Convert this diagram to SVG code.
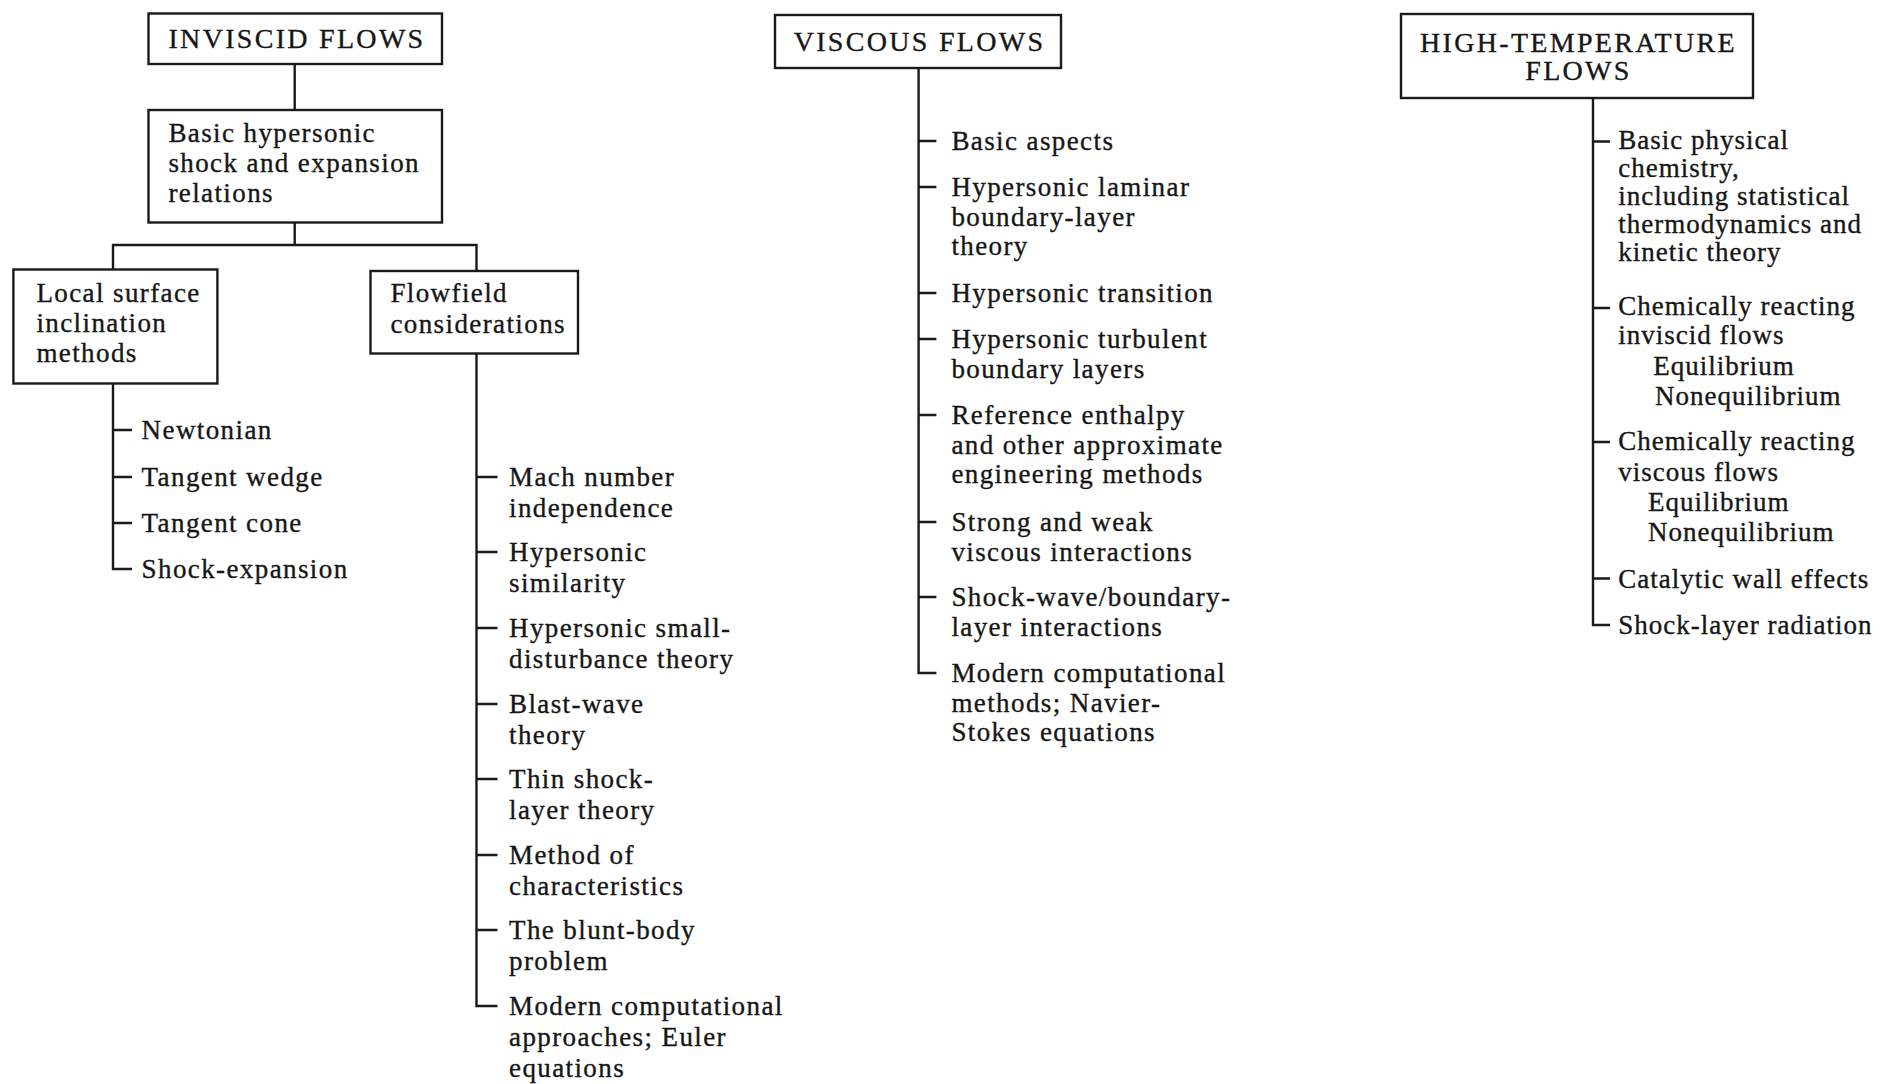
<svg xmlns="http://www.w3.org/2000/svg" width="1883" height="1084" viewBox="0 0 1883 1084">
<style>
.t{font-family:"Liberation Serif","Times New Roman",serif;font-size:27px;letter-spacing:1.4px;fill:#161616;stroke:#161616;stroke-width:0.35}
.tn{letter-spacing:1px}
.h{font-family:"Liberation Serif","Times New Roman",serif;font-size:28px;letter-spacing:2.3px;fill:#161616;stroke:#161616;stroke-width:0.35;text-anchor:middle}
.box{fill:none;stroke:#1a1a1a;stroke-width:2.4}
.ln{fill:none;stroke:#1a1a1a;stroke-width:2.4}
</style>
<rect width="1883" height="1084" fill="#fff"/>
<g id="connectors" class="ln">
<path d="M294.7 64V110"/>
<path d="M294.7 222.5V245M113 269.5V245H476.5V271"/>
<path d="M113 383.5V569H132M113 430H132M113 477H132M113 523H132"/>
<path d="M476.5 353.5V1006H497.5M476.5 477H497.5M476.5 552H497.5M476.5 628H497.5M476.5 704H497.5M476.5 779H497.5M476.5 855H497.5M476.5 930H497.5"/>
<path d="M918.6 68V673H936.4M918.6 141H936.4M918.6 187H936.4M918.6 293H936.4M918.6 339H936.4M918.6 415H936.4M918.6 522H936.4M918.6 597H936.4"/>
<path d="M1593 98V625H1610M1593 141.5H1610M1593 308H1610M1593 442H1610M1593 578.5H1610"/>
</g>
<g id="inviscid">
<rect class="box" x="148.5" y="13.5" width="293.5" height="50.5"/>
<text class="h" x="297" y="48">INVISCID FLOWS</text>
</g>
<g id="basic-relations">
<rect class="box" x="148.5" y="110" width="293.5" height="112.5"/>
<text class="t" x="168.4" y="141.7"><tspan x="168.4">Basic hypersonic</tspan><tspan x="168.4" dy="30">shock and expansion</tspan><tspan x="168.4" dy="30">relations</tspan></text>
</g>
<g id="local-surface">
<rect class="box" x="13.4" y="269.5" width="204" height="114"/>
<text class="t" x="36.4" y="301.7"><tspan x="36.4">Local surface</tspan><tspan x="36.4" dy="30">inclination</tspan><tspan x="36.4" dy="30">methods</tspan></text>
</g>
<g id="flowfield">
<rect class="box" x="370.5" y="271" width="207.5" height="82.5"/>
<text class="t" x="390.4" y="301.7"><tspan x="390.4">Flowfield</tspan><tspan x="390.4" dy="31.5">considerations</tspan></text>
</g>
<g id="local-items" class="t">
<text x="141.6" y="439">Newtonian</text>
<text x="141.6" y="486">Tangent wedge</text>
<text x="141.6" y="532">Tangent cone</text>
<text x="141.6" y="578">Shock-expansion</text>
</g>
<g id="flowfield-items" class="t">
<text x="509" y="485.5"><tspan x="509">Mach number</tspan><tspan x="509" dy="31">independence</tspan></text>
<text x="509" y="560.5"><tspan x="509">Hypersonic</tspan><tspan x="509" dy="31">similarity</tspan></text>
<text x="509" y="636.5"><tspan x="509">Hypersonic small-</tspan><tspan x="509" dy="31">disturbance theory</tspan></text>
<text x="509" y="712.5"><tspan x="509">Blast-wave</tspan><tspan x="509" dy="31">theory</tspan></text>
<text x="509" y="787.5"><tspan x="509">Thin shock-</tspan><tspan x="509" dy="31">layer theory</tspan></text>
<text x="509" y="863.5"><tspan x="509">Method of</tspan><tspan x="509" dy="31">characteristics</tspan></text>
<text x="509" y="938.5"><tspan x="509">The blunt-body</tspan><tspan x="509" dy="31">problem</tspan></text>
<text x="509" y="1014.5"><tspan x="509">Modern computational</tspan><tspan x="509" dy="31">approaches; Euler</tspan><tspan x="509" dy="31">equations</tspan></text>
</g>
<g id="viscous">
<rect class="box" x="775" y="15" width="286" height="53"/>
<text class="h" x="919.5" y="50.5">VISCOUS FLOWS</text>
</g>
<g id="viscous-items" class="t">
<text x="951.4" y="150">Basic aspects</text>
<text x="951.4" y="196"><tspan x="951.4">Hypersonic laminar</tspan><tspan x="951.4" dy="29.5">boundary-layer</tspan><tspan x="951.4" dy="29.5">theory</tspan></text>
<text x="951.4" y="302">Hypersonic transition</text>
<text x="951.4" y="348"><tspan x="951.4">Hypersonic turbulent</tspan><tspan x="951.4" dy="29.5">boundary layers</tspan></text>
<text x="951.4" y="424"><tspan x="951.4">Reference enthalpy</tspan><tspan x="951.4" dy="29.5">and other approximate</tspan><tspan x="951.4" dy="29.5">engineering methods</tspan></text>
<text x="951.4" y="531"><tspan x="951.4">Strong and weak</tspan><tspan x="951.4" dy="29.5">viscous interactions</tspan></text>
<text x="951.4" y="606"><tspan x="951.4">Shock-wave/boundary-</tspan><tspan x="951.4" dy="29.5">layer interactions</tspan></text>
<text x="951.4" y="682"><tspan x="951.4">Modern computational</tspan><tspan x="951.4" dy="29.5">methods; Navier-</tspan><tspan x="951.4" dy="29.5">Stokes equations</tspan></text>
</g>
<g id="high-temperature">
<rect class="box" x="1401" y="14" width="352" height="84"/>
<text class="h" x="1578.5" y="52"><tspan x="1578.5">HIGH-TEMPERATURE</tspan><tspan x="1578.5" dy="28.3">FLOWS</tspan></text>
</g>
<g id="high-temperature-items" class="t tn">
<text x="1618.3" y="148.5"><tspan x="1618.3">Basic physical</tspan><tspan x="1618.3" dy="28">chemistry,</tspan><tspan x="1618.3" dy="28">including statistical</tspan><tspan x="1618.3" dy="28">thermodynamics and</tspan><tspan x="1618.3" dy="28">kinetic theory</tspan></text>
<text x="1618.3" y="315"><tspan x="1618.3">Chemically reacting</tspan><tspan x="1618.3" dy="29">inviscid flows</tspan><tspan x="1653.3" dy="31">Equilibrium</tspan><tspan x="1655" dy="30">Nonequilibrium</tspan></text>
<text x="1618.3" y="450"><tspan x="1618.3">Chemically reacting</tspan><tspan x="1618.3" dy="31">viscous flows</tspan><tspan x="1648" dy="30">Equilibrium</tspan><tspan x="1648" dy="30">Nonequilibrium</tspan></text>
<text x="1618.3" y="587.5">Catalytic wall effects</text>
<text x="1618.3" y="633.5">Shock-layer radiation</text>
</g>
</svg>
